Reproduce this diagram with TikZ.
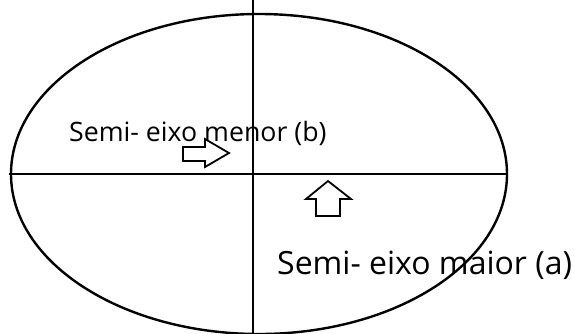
\documentclass[tikz,border=0pt]{standalone}
\usepackage{fontspec}
\setmainfont{Open Sans}
\begin{document}
\begin{tikzpicture}[x=1pt,y=-1pt,
  axis/.style={line width=2.4pt,draw=black},
  blockarrow/.style={line width=1.8pt,draw=black,fill=white,line join=miter},
  lbl/.style={anchor=base west,inner sep=0pt,text=black}]
\useasboundingbox (0,0) rectangle (575,333);
\clip (0,0) rectangle (575,333);
\fill[white] (0,0) rectangle (575,333);
\draw[axis] (259,174) ellipse [x radius=248, y radius=160];
\coordinate (L) at (9,174);
\coordinate (R) at (507,174);
\coordinate (T) at (253,0);
\coordinate (B) at (253,333);
\draw[axis] (L) -- (R);
\draw[axis] (T) -- (B);
\node[lbl,font=\fontsize{26.7}{30}\selectfont] (minor) at (69,141) {Semi- eixo menor (b)};
\draw[blockarrow] (183,147) -- (205,147) -- (205,139) -- (229,153) -- (205,167) -- (205,161) -- (183,161) -- cycle;
\draw[blockarrow] (316,216) -- (316,199) -- (306,199) -- (328,181) -- (351,199) -- (340,199) -- (340,216) -- cycle;
\node[lbl,font=\fontsize{32}{36}\selectfont] (major) at (277,274) {Semi- eixo maior (a)};
\end{tikzpicture}
\end{document}
